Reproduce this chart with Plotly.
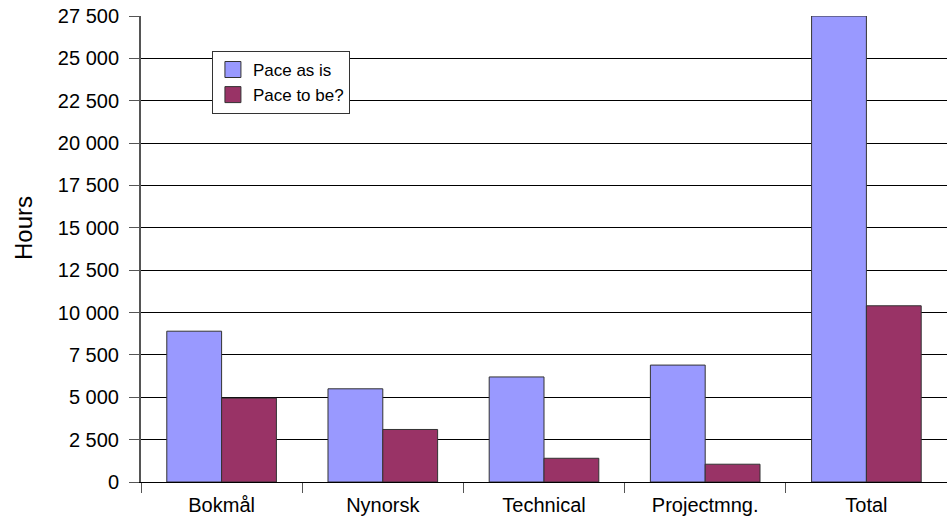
import plotly.graph_objects as go

categories = ["Bokmål", "Nynorsk", "Technical", "Projectmng.", "Total"]
pace_as_is = [8900, 5500, 6200, 6900, 27500]
pace_to_be = [4950, 3100, 1400, 1050, 10400]
series_names = ["Pace as is", "Pace to be?"]
series_colors = ["#9999FF", "#993366"]
y_ticks = list(range(0, 27501, 2500))

fig = go.Figure()
for name, vals, col in zip(series_names, [pace_as_is, pace_to_be], series_colors):
    fig.add_trace(go.Bar(x=categories, y=vals, name=name, showlegend=False,
                         marker=dict(color=col, line=dict(color="#333333", width=1))))
# legend entries with larger square swatches
for name, col in zip(series_names, series_colors):
    fig.add_trace(go.Scatter(x=[None], y=[None], mode="markers", name=name,
                             marker=dict(symbol="square", size=17, color=col,
                                         line=dict(color="#333333", width=1))))

fig.update_layout(
    width=947, height=523,
    margin=dict(l=141, r=0, t=16, b=41),
    paper_bgcolor="white", plot_bgcolor="white",
    barmode="group", bargap=0.32, bargroupgap=0,
    separators=", ",
    font=dict(family="Arial, 'Liberation Sans', sans-serif", color="black", size=20),
    legend=dict(x=0.088, y=0.925, xanchor="left", yanchor="top",
                bgcolor="white", bordercolor="#333333", borderwidth=1,
                font=dict(size=17), tracegroupgap=0, itemwidth=30),
    showlegend=True,
    annotations=[dict(text="Hours", textangle=-90, xref="paper", yref="paper",
                      x=-0.1464, y=0.545, xanchor="center", yanchor="middle",
                      showarrow=False, font=dict(size=24))],
)
fig.update_xaxes(type="category", range=[-0.5, 4.5], showgrid=False,
                 ticks="outside", tickson="boundaries", ticklen=10,
                 tickcolor="#555555", showline=True, linecolor="black",
                 linewidth=1, tickfont=dict(size=20), ticklabelstandoff=5)
fig.update_yaxes(range=[0, 27500], tickvals=y_ticks, tickformat=",d",
                 showgrid=True, gridcolor="black", gridwidth=1,
                 ticks="outside", ticklen=10, tickcolor="#555555",
                 showline=True, linecolor="#555555", linewidth=2,
                 zeroline=False, tickfont=dict(size=20), ticklabelstandoff=6)

fig.write_html("out.html")
